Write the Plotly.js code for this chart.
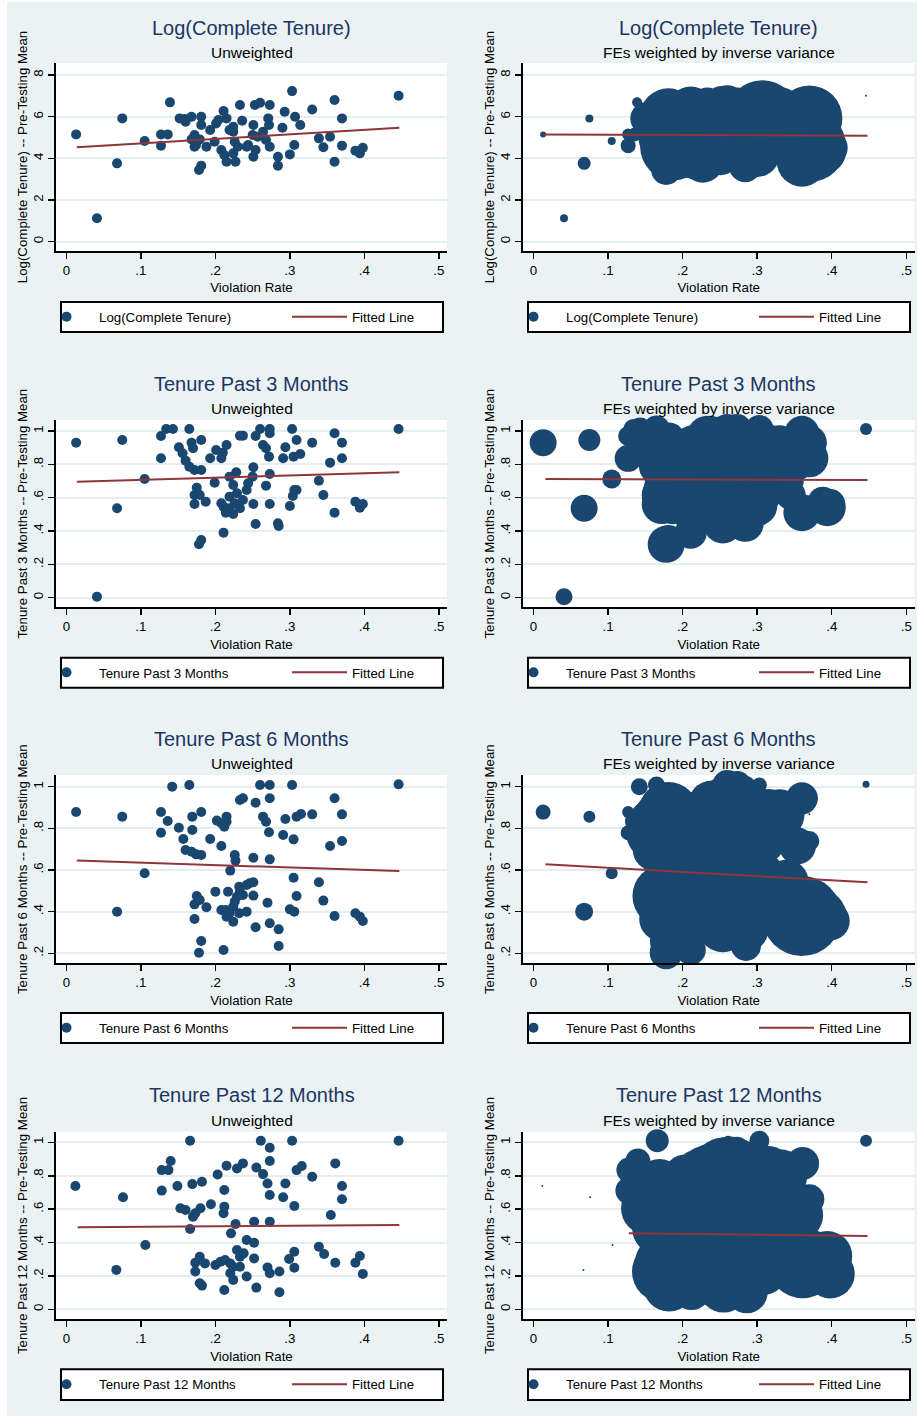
<!DOCTYPE html>
<html><head><meta charset="utf-8">
<script src="https://cdn.plot.ly/plotly-3.0.1.min.js"></script>
<style>
html,body{margin:0;padding:0;background:#fff;width:917px;height:1416px;overflow:hidden}
#chart{position:absolute;left:7px;top:2px;width:910px;height:1414px}
</style>
</head><body><div id="chart"></div>
<script>
// ---------------- DATA ----------------
const xTickVals = [0, 0.1, 0.2, 0.3, 0.4, 0.5];
const xTickText = ['0', '.1', '.2', '.3', '.4', '.5'];

// Log(Complete Tenure)
const logX = [0.013,0.041,0.068,0.075,0.105,0.127,0.127,0.136,0.139,0.152,0.159,0.160,0.168,0.181,0.181,0.168,0.172,0.172,0.174,0.179,0.188,0.178,0.181,0.193,0.199,0.201,0.204,0.211,0.215,0.208,0.212,0.215,0.219,0.224,0.224,0.226,0.224,0.227,0.230,0.233,0.236,0.242,0.244,0.251,0.250,0.251,0.254,0.253,0.257,0.260,0.264,0.271,0.273,0.272,0.268,0.273,0.284,0.284,0.290,0.293,0.303,0.300,0.306,0.307,0.314,0.330,0.339,0.345,0.354,0.360,0.360,0.370,0.370,0.388,0.394,0.398,0.446];
const logY = [5.15,1.12,3.76,5.92,4.83,4.61,5.15,5.15,6.69,5.92,5.89,5.76,6.00,6.00,5.60,4.91,5.12,4.56,4.64,4.91,4.56,3.44,3.65,5.36,4.80,5.68,5.84,6.27,5.92,4.40,4.16,3.84,5.36,5.52,5.28,4.80,4.24,3.84,4.56,6.56,5.81,4.56,4.64,5.60,5.12,4.08,4.40,6.56,5.04,6.67,5.28,5.92,6.56,5.60,4.88,4.56,4.08,3.65,5.47,6.24,7.23,4.19,4.64,6.00,5.60,6.35,4.96,4.53,5.04,6.80,3.84,5.92,4.61,4.37,4.24,4.51,7.01];
const logW = [6,8,13,8,8,15,12,14,10,33,30,30,40,57,40,40,40,35,35,40,67,30,30,40,40,40,40,49,40,40,40,35,40,40,40,40,40,42,40,35,40,40,40,40,40,37,40,38,40,35,45,40,35,40,40,40,40,33,40,50,20,45,45,73,45,45,45,45,45,25,50,66,73,47,35,35,2];
const logFitX = [0.014, 0.447], logFitY = [4.53, 5.47];
const logFitWX = [0.013, 0.448], logFitWY = [5.15, 5.09];

// Tenure Past 3 Months
const m3X = [0.013,0.041,0.068,0.075,0.105,0.127,0.127,0.134,0.143,0.151,0.156,0.160,0.165,0.168,0.170,0.165,0.172,0.181,0.181,0.175,0.172,0.179,0.172,0.187,0.181,0.178,0.193,0.199,0.201,0.208,0.210,0.215,0.208,0.211,0.214,0.219,0.219,0.211,0.224,0.226,0.229,0.228,0.219,0.224,0.233,0.237,0.233,0.237,0.242,0.244,0.250,0.251,0.251,0.254,0.254,0.260,0.273,0.273,0.264,0.268,0.272,0.273,0.268,0.273,0.284,0.285,0.291,0.294,0.303,0.309,0.305,0.314,0.300,0.304,0.306,0.309,0.330,0.339,0.345,0.354,0.360,0.360,0.370,0.370,0.388,0.394,0.398,0.446];
const m3Y = [0.930,0.006,0.536,0.946,0.712,0.970,0.836,1.012,1.012,0.902,0.866,0.822,1.012,0.930,0.896,0.786,0.766,0.766,0.946,0.660,0.616,0.616,0.562,0.576,0.346,0.320,0.836,0.690,0.886,0.836,0.870,0.916,0.566,0.546,0.510,0.536,0.606,0.390,0.502,0.566,0.626,0.752,0.726,0.676,0.972,0.972,0.536,0.586,0.646,0.686,0.726,0.782,0.562,0.442,0.970,1.012,1.012,0.986,0.916,0.896,0.846,0.742,0.672,0.562,0.446,0.430,0.836,0.902,1.012,0.946,0.846,0.862,0.550,0.610,0.646,0.646,0.930,0.702,0.616,0.810,0.986,0.510,0.930,0.836,0.576,0.540,0.562,1.012];
const m3W = [27,17,27,22,19,20,27,20,23,30,30,30,27,35,35,35,40,40,35,40,40,45,40,45,30,37,40,40,40,40,40,40,40,40,40,40,40,32,40,40,40,40,40,40,40,40,40,40,40,40,40,40,40,39,40,30,30,35,40,40,40,40,40,40,37,30,40,40,28,35,40,40,40,40,40,40,35,35,30,35,35,37,35,38,30,37,30,12];
const m3FitX = [0.014, 0.447], m3FitY = [0.696, 0.752];
const m3FitWX = [0.016, 0.448], m3FitWY = [0.712, 0.706];

// Tenure Past 6 Months
const m6X = [0.013,0.068,0.075,0.105,0.127,0.127,0.136,0.142,0.151,0.157,0.160,0.168,0.174,0.181,0.165,0.169,0.169,0.181,0.175,0.172,0.179,0.188,0.172,0.181,0.178,0.193,0.200,0.202,0.208,0.215,0.212,0.215,0.208,0.208,0.214,0.217,0.215,0.224,0.219,0.211,0.220,0.226,0.227,0.226,0.229,0.233,0.237,0.232,0.233,0.237,0.224,0.232,0.242,0.242,0.246,0.251,0.251,0.251,0.254,0.254,0.260,0.273,0.273,0.264,0.268,0.272,0.273,0.270,0.273,0.285,0.285,0.291,0.294,0.303,0.305,0.309,0.315,0.305,0.309,0.300,0.306,0.330,0.339,0.345,0.354,0.360,0.360,0.370,0.370,0.388,0.394,0.398,0.446];
const m6Y = [0.878,0.400,0.856,0.584,0.878,0.779,0.835,1.000,0.803,0.749,0.696,0.688,0.675,0.672,1.008,0.856,0.792,0.878,0.475,0.435,0.456,0.421,0.365,0.259,0.203,0.749,0.496,0.837,0.824,0.856,0.808,0.832,0.715,0.408,0.408,0.496,0.376,0.352,0.392,0.216,0.597,0.672,0.645,0.448,0.472,0.496,0.480,0.520,0.936,0.944,0.424,0.392,0.400,0.528,0.536,0.541,0.659,0.477,0.923,0.325,1.008,1.008,0.944,0.856,0.832,0.781,0.651,0.443,0.344,0.315,0.235,0.768,0.845,1.008,0.747,0.856,0.869,0.563,0.475,0.411,0.400,0.867,0.541,0.453,0.715,0.944,0.379,0.867,0.739,0.392,0.376,0.355,1.011];
const m6W = [15,18,12,12,12,15,20,17,30,40,40,45,45,45,17,50,68,60,63,50,50,50,45,37,33,50,50,50,50,50,50,50,50,50,50,50,45,45,45,30,50,50,50,50,50,50,50,50,35,35,50,50,50,50,50,50,50,50,50,50,30,28,50,80,50,50,50,60,50,45,30,50,50,15,50,50,50,50,50,50,50,50,45,45,37,32,80,2,20,45,40,39,7];
const m6FitX = [0.014, 0.447], m6FitY = [0.645, 0.595];
const m6FitWX = [0.016, 0.448], m6FitWY = [0.627, 0.541];

// Tenure Past 12 Months
const m12X = [0.012,0.067,0.076,0.106,0.128,0.128,0.137,0.140,0.149,0.153,0.160,0.166,0.169,0.170,0.166,0.173,0.180,0.182,0.173,0.173,0.179,0.186,0.179,0.182,0.194,0.203,0.212,0.212,0.211,0.215,0.212,0.200,0.207,0.213,0.220,0.224,0.220,0.224,0.221,0.227,0.229,0.237,0.229,0.233,0.238,0.233,0.242,0.242,0.252,0.252,0.252,0.255,0.255,0.261,0.264,0.270,0.273,0.273,0.273,0.273,0.270,0.273,0.286,0.286,0.291,0.294,0.303,0.306,0.309,0.316,0.306,0.299,0.306,0.330,0.339,0.346,0.355,0.361,0.361,0.370,0.370,0.388,0.394,0.398,0.446];
const m12Y = [0.739,0.236,0.671,0.385,0.834,0.711,0.834,0.888,0.739,0.605,0.595,1.010,0.750,0.555,0.481,0.575,0.605,0.764,0.279,0.226,0.315,0.275,0.156,0.142,0.629,0.808,0.715,0.615,0.575,0.860,0.116,0.265,0.285,0.295,0.275,0.255,0.216,0.176,0.455,0.511,0.844,0.874,0.355,0.315,0.335,0.255,0.196,0.415,0.525,0.399,0.305,0.850,0.130,1.010,0.810,0.754,0.968,0.888,0.685,0.525,0.251,0.216,0.226,0.102,0.671,0.754,1.010,0.619,0.834,0.858,0.345,0.301,0.249,0.794,0.375,0.331,0.565,0.874,0.279,0.739,0.659,0.279,0.319,0.212,1.010];
const m12W = [2,2,2,2,25,27,25,25,40,53,50,23,50,50,50,50,50,40,55,61,55,55,50,52,55,40,55,55,55,30,40,55,55,55,55,55,55,50,55,55,45,40,55,55,55,55,55,55,55,55,55,60,50,10,75,60,22,45,60,60,55,55,50,42,60,60,20,60,45,40,55,55,55,55,55,55,50,33,71,2,30,55,50,49,12];
const m12FitX = [0.015, 0.447], m12FitY = [0.491, 0.505];
const m12FitWX = [0.128, 0.448], m12FitWY = [0.455, 0.439];

const seriesNames = ['Log(Complete Tenure)', 'Tenure Past 3 Months', 'Tenure Past 6 Months', 'Tenure Past 12 Months'];
const yTitles = ['Log(Complete Tenure) -- Pre-Testing Mean', 'Tenure Past 3 Months -- Pre-Testing Mean', 'Tenure Past 6 Months -- Pre-Testing Mean', 'Tenure Past 12 Months -- Pre-Testing Mean'];
const subTitles = ['Unweighted', 'FEs weighted by inverse variance'];
const yTickVals = [[0,2,4,6,8],[0,0.2,0.4,0.6,0.8,1],[0.2,0.4,0.6,0.8,1],[0,0.2,0.4,0.6,0.8,1]];
const yTickText = [['0','2','4','6','8'],['0','.2','.4','.6','.8','1'],['.2','.4','.6','.8','1'],['0','.2','.4','.6','.8','1']];
const yRanges = [[-0.45,8.58],[-0.058,1.066],[0.152,1.056],[-0.06,1.064]];

const dataSets = [
  {x: logX, y: logY, w: logW, fu: [logFitX, logFitY], fw: [logFitWX, logFitWY]},
  {x: m3X, y: m3Y, w: m3W, fu: [m3FitX, m3FitY], fw: [m3FitWX, m3FitWY]},
  {x: m6X, y: m6Y, w: m6W, fu: [m6FitX, m6FitY], fw: [m6FitWX, m6FitWY]},
  {x: m12X, y: m12Y, w: m12W, fu: [m12FitX, m12FitY], fw: [m12FitWX, m12FitWY]}
];

// ---------------- LAYOUT ----------------
const FONT = 'Liberation Sans, Arial, Helvetica, sans-serif';
const NAVY = '#1a476f', MAROON = '#90353b', TITLE = '#1c3562', BG = '#eaf2f3', GRID = '#e4edf0';
const W = 910, H = 1414, OX = 7, OY = 2;
const px = v => (v - OX) / W;
const py = v => 1 - (v - OY) / H;
const cols = [{l: 56, r: 447}, {l: 523, r: 914.5}];
const rows = [
  {t: 63, b: 251, title: 28, sub: 53, lt: 302, lb: 332},
  {t: 420, b: 607.3, title: 384, sub: 408, lt: 657.7, lb: 687.7},
  {t: 775, b: 963.3, title: 739, sub: 764, lt: 1013, lb: 1043},
  {t: 1131.7, b: 1319.3, title: 1095, sub: 1120.7, lt: 1369.3, lb: 1400}
];

const traces = [];
const layout = {
  width: W, height: H, margin: {l: 0, r: 0, t: 0, b: 0, autoexpand: false},
  paper_bgcolor: BG, plot_bgcolor: '#ffffff',
  font: {family: FONT, size: 13.3, color: '#000'},
  annotations: [], shapes: [], showlegend: true
};

for (let r = 0; r < 4; r++) {
  for (let c = 0; c < 2; c++) {
    const n = r * 2 + c + 1;
    const xa = n === 1 ? 'x' : 'x' + n, ya = n === 1 ? 'y' : 'y' + n;
    const legId = n === 1 ? 'legend' : 'legend' + n;
    const col = cols[c], row = rows[r], ds = dataSets[r];
    const weighted = c === 1;

    traces.push({
      type: 'scatter', mode: 'markers', x: ds.x, y: ds.y, xaxis: xa, yaxis: ya,
      name: seriesNames[r], legend: legId, showlegend: !weighted, cliponaxis: false, hoverinfo: 'skip',
      marker: {color: NAVY, opacity: 1, line: {width: 0},
        size: weighted ? ds.w : 10, sizemode: 'diameter', sizeref: 1}
    });
    if (weighted) {
      // legend key for the weighted scatter (same series, fixed key size)
      traces.push({
        type: 'scatter', mode: 'markers', x: [null], y: [null], xaxis: xa, yaxis: ya,
        name: seriesNames[r], legend: legId, hoverinfo: 'skip',
        marker: {color: NAVY, opacity: 1, size: 10, line: {width: 0}}
      });
    }
    const f = weighted ? ds.fw : ds.fu;
    traces.push({
      type: 'scatter', mode: 'lines', x: f[0], y: f[1], xaxis: xa, yaxis: ya,
      name: 'Fitted Line', legend: legId, hoverinfo: 'skip', cliponaxis: false,
      line: {color: MAROON, width: 2}
    });

    layout['xaxis' + (n === 1 ? '' : n)] = {
      domain: [px(col.l), px(col.r)], anchor: ya, range: [-0.014, 0.511],
      tickvals: xTickVals, ticktext: xTickText, ticks: 'outside', ticklen: 6, tickwidth: 1.5, tickcolor: '#000',
      showline: true, linecolor: '#000', linewidth: 2, showgrid: false, zeroline: false,
      tickfont: {size: 13.3, color: '#000'}, fixedrange: true,
      title: {text: 'Violation Rate', font: {size: 13.3, color: '#000'}, standoff: 6}
    };
    layout['yaxis' + (n === 1 ? '' : n)] = {
      domain: [py(row.b), py(row.t)], anchor: xa, range: yRanges[r],
      tickvals: yTickVals[r], ticktext: yTickText[r], tickangle: -90,
      ticks: 'outside', ticklen: 6, tickwidth: 1.5, tickcolor: '#000',
      showline: true, linecolor: '#000', linewidth: 2,
      showgrid: true, gridcolor: GRID, gridwidth: 2, zeroline: false,
      tickfont: {size: 13.3, color: '#000'}, fixedrange: true,
      title: {text: yTitles[r], font: {size: 13.3, color: '#000'}, standoff: 0}
    };

    layout[legId] = {
      x: px(col.l - 22), y: py((row.lt + row.lb) / 2), xref: 'paper', yref: 'paper',
      xanchor: 'left', yanchor: 'middle', orientation: 'h',
      bgcolor: 'rgba(0,0,0,0)', borderwidth: 0, font: {size: 13.3, color: '#000', family: FONT},
      itemwidth: 55, entrywidth: 183, entrywidthmode: 'pixels',
      itemsizing: 'trace', traceorder: 'normal',
      itemclick: false, itemdoubleclick: false
    };

    layout.shapes.push({
      type: 'rect', xref: 'paper', yref: 'paper', layer: 'below',
      x0: px(col.l + 5), x1: px(col.l + 387), y0: py(row.lb), y1: py(row.lt),
      line: {color: '#000', width: 2}, fillcolor: '#ffffff'
    });

    const cx = px((col.l + col.r) / 2);
    layout.annotations.push({
      xref: 'paper', yref: 'paper', x: cx, y: py(row.title), xanchor: 'center', yanchor: 'middle',
      showarrow: false, text: seriesNames[r], font: {size: 20, color: TITLE, family: FONT}
    });
    layout.annotations.push({
      xref: 'paper', yref: 'paper', x: cx, y: py(row.sub), xanchor: 'center', yanchor: 'middle',
      showarrow: false, text: subTitles[c], font: {size: 15.5, color: '#000', family: FONT}
    });
  }
}

Plotly.newPlot('chart', traces, layout, {staticPlot: true, displayModeBar: false});
</script></body></html>
